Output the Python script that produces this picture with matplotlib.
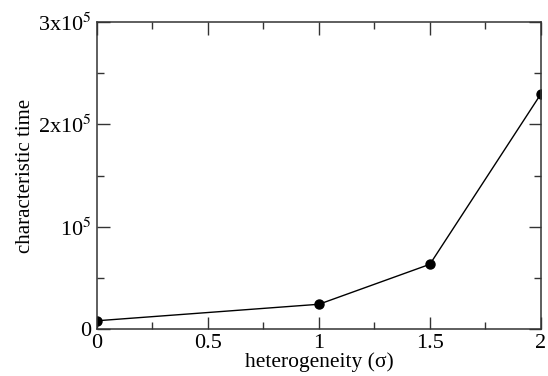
import matplotlib
matplotlib.use("Agg")
import matplotlib.pyplot as plt
from matplotlib.ticker import MultipleLocator, FuncFormatter

plt.rcParams['font.family'] = ['Liberation Serif', 'DejaVu Serif']
plt.rcParams['mathtext.fontset'] = 'stix'

sigma = [0, 1, 1.5, 2]
char_time = [8400, 24500, 63500, 229600]
ytick_labels = {0: "0", 1: "10$^{5}$", 2: "2x10$^{5}$", 3: "3x10$^{5}$"}


def yfmt(v, pos):
    k = int(round(v / 1e5))
    return ytick_labels.get(k, "")


fig = plt.figure(figsize=(5.48, 3.76), dpi=100)
ax = fig.add_axes([0.177, 0.124, 0.81, 0.818])

ax.plot(sigma, char_time, color="black", lw=1.0, marker="o", ms=6.5)

ax.set_xlim(0, 2)
ax.set_ylim(0, 3e5)
ax.xaxis.set_major_locator(MultipleLocator(0.5))
ax.xaxis.set_minor_locator(MultipleLocator(0.25))
ax.yaxis.set_major_locator(MultipleLocator(1e5))
ax.yaxis.set_minor_locator(MultipleLocator(5e4))
ax.xaxis.set_major_formatter(FuncFormatter(lambda v, p: "%g" % v))
ax.yaxis.set_major_formatter(FuncFormatter(yfmt))

ax.tick_params(which="both", direction="in", top=True, right=True,
               width=1.0, color="#333333")
ax.tick_params(axis="x", which="major", labelsize=16, pad=3)
ax.tick_params(axis="y", which="major", labelsize=16, pad=4)
ax.tick_params(which="major", length=9)
ax.tick_params(which="minor", length=5)
for s in ax.spines.values():
    s.set_linewidth(1.1)
    s.set_color("#333333")

ax.set_xlabel("heterogeneity (σ)", fontsize=15.5, labelpad=0)
ax.set_ylabel("characteristic time", fontsize=15, labelpad=2)

fig.savefig("out.png", dpi=100)
